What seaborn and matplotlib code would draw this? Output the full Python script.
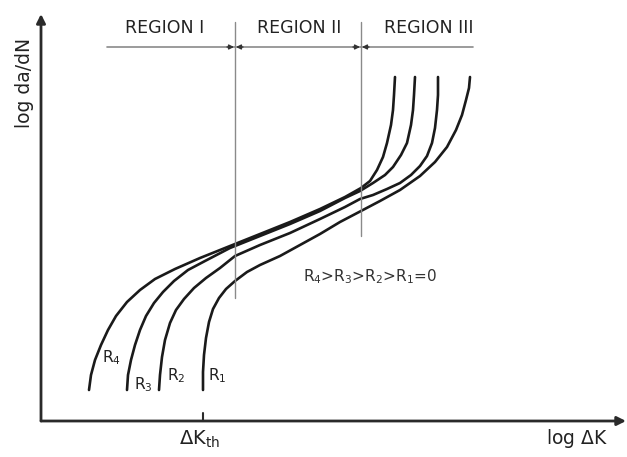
import numpy as np
import pandas as pd
import matplotlib
matplotlib.use("Agg")
import matplotlib.pyplot as plt
import seaborn as sns

sns.set_theme(style="white")
plt.rcParams['font.family'] = ['DejaVu Sans']

# Schematic crack-growth curves (arbitrary units: log dK along x, log da/dN along y)
r4_x = [48, 50, 54, 60, 67, 75, 86, 99, 114, 134, 159, 189, 219, 249, 279, 304, 320, 329, 336, 342, 346, 350, 352, 353, 354]
r4_y = [31, 46, 61, 76, 91, 105, 119, 131, 142, 152, 163, 175, 187, 199, 212, 224, 233, 240, 251, 264, 278, 296, 311, 326, 344]

r3_x = [86, 87, 90, 94, 99, 105, 113, 122, 133, 147, 164, 189, 219, 249, 279, 304, 319, 332, 344, 352, 360, 366, 370, 372, 373, 374]
r3_y = [31, 46, 61, 76, 91, 105, 118, 129, 140, 151, 160, 173, 185, 197, 210, 223, 230, 238, 246, 254, 266, 278, 296, 311, 326, 344]

r2_x = [118, 119, 121, 124, 129, 135, 143, 153, 165, 179, 194, 219, 249, 279, 304, 319, 332, 346, 359, 370, 379, 386, 391, 394, 396, 397, 397]
r2_y = [31, 46, 64, 81, 98, 111, 122, 133, 143, 153, 165, 176, 188, 202, 214, 222, 226, 232, 238, 246, 255, 265, 278, 293, 311, 326, 344]

r1_x = [162, 162, 163, 165, 168, 172, 178, 185, 194, 206, 219, 239, 259, 279, 299, 320, 339, 359, 379, 394, 406, 415, 421, 425, 428, 429]
r1_y = [31, 49, 66, 83, 99, 112, 123, 132, 140, 149, 156, 165, 176, 187, 199, 210, 220, 231, 245, 259, 274, 291, 306, 321, 333, 344]

curve_names = ["R4", "R3", "R2", "R1"]
label_text = [r"R$_4$", r"R$_3$", r"R$_2$", r"R$_1$"]
label_x = [70, 102, 135, 176]
label_y = [63, 36, 45, 45]

dk_th = 162
region_bounds = [194, 320]
region_names = ["REGION I", "REGION II", "REGION III"]
region_centers = [124, 258, 388]

frames = []
for name, xs, ys in zip(curve_names, [r4_x, r3_x, r2_x, r1_x], [r4_y, r3_y, r2_y, r1_y]):
    frames.append(pd.DataFrame({"x": xs, "y": ys, "curve": name}))
df = pd.concat(frames, ignore_index=True)

fig = plt.figure(figsize=(6.27, 4.57), dpi=100)
ax = fig.add_axes([0, 0, 1, 1])

sns.lineplot(data=df, x="x", y="y", hue="curve", units="curve", estimator=None,
             sort=False, palette=["#1a1a1a"] * 4, linewidth=1.9, legend=False, ax=ax,
             solid_joinstyle="round", solid_capstyle="round")

ax.set_xlim(-41, 586)
ax.set_ylim(-36, 421)
ax.axis("off")

axis_col = "#2a2a2a"
# axes with arrows
ax.annotate("", xy=(0, 407), xytext=(0, 0),
            arrowprops=dict(arrowstyle="-|>", lw=2.0, color=axis_col, mutation_scale=13, shrinkA=0, shrinkB=0))
ax.annotate("", xy=(585, 0), xytext=(0, 0),
            arrowprops=dict(arrowstyle="-|>", lw=2.0, color=axis_col, mutation_scale=13, shrinkA=0, shrinkB=0))

# threshold tick
ax.plot([dk_th, dk_th], [0, 8], color=axis_col, lw=1.5)
ax.text(dk_th - 3, -18, r"$\Delta$K$_{\mathrm{th}}$", ha="center", va="center", fontsize=14, color="#222")
ax.text(536, -18, r"log $\Delta$K", ha="center", va="center", fontsize=13.5, color="#222")
ax.text(-17, 338, "log da/dN", rotation=90, ha="center", va="center", fontsize=13.5, color="#222")

# region boundaries
grey = "#8a8a8a"
ax.plot([region_bounds[0]] * 2, [123, 399], color=grey, lw=1.0)
ax.plot([region_bounds[1]] * 2, [185, 399], color=grey, lw=1.0)
ax.plot([66, 432], [374, 374], color=grey, lw=1.2)
for b in region_bounds:
    ax.annotate("", xy=(b - 1, 374), xytext=(b - 8, 374),
                arrowprops=dict(arrowstyle="-|>", lw=1.0, color="#333", mutation_scale=7, shrinkA=0, shrinkB=0))
    ax.annotate("", xy=(b + 1, 374), xytext=(b + 8, 374),
                arrowprops=dict(arrowstyle="-|>", lw=1.0, color="#333", mutation_scale=7, shrinkA=0, shrinkB=0))
for name, cx in zip(region_names, region_centers):
    ax.text(cx, 393, name, ha="center", va="center", fontsize=12.5, color="#222")

for t, lx, ly in zip(label_text, label_x, label_y):
    ax.text(lx, ly, t, ha="center", va="center", fontsize=11, color="#222")

ax.text(329, 144, r"R$_4$>R$_3$>R$_2$>R$_1$=0", ha="center", va="center", fontsize=11, color="#333")

fig.savefig("out.png", dpi=100, facecolor="white")
